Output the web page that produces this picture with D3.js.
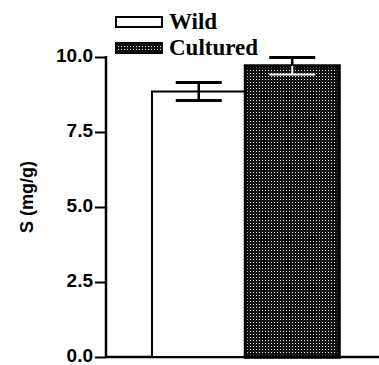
<!DOCTYPE html>
<html><head><meta charset="utf-8">
<script src="https://cdn.jsdelivr.net/npm/d3@7"></script>
<style>body{margin:0;background:#fff}</style>
</head><body>
<script>
const categories = ["Wild", "Cultured"];
const means = [8.85, 9.7];
const errors = [0.3, 0.28];
const yTicks = [0, 2.5, 5, 7.5, 10];
const yLabel = "S (mg/g)";

const W = 379, H = 365;
const svg = d3.select("body").append("svg").attr("width", W).attr("height", H);

const defs = svg.append("defs");
const pat = defs.append("pattern").attr("id", "hatch").attr("patternUnits", "userSpaceOnUse")
  .attr("width", 3).attr("height", 3);
pat.append("rect").attr("width", 3).attr("height", 3).attr("fill", "#111");
pat.append("rect").attr("x", 1).attr("y", 1).attr("width", 1).attr("height", 1).attr("fill", "#eee");

const y = d3.scaleLinear().domain([0, 10]).range([357, 57]);
const x = d3.scaleBand().domain(categories).range([152, 339]).paddingInner(0);
const axisX = 106;

// y axis
const yAxis = d3.axisLeft(y).tickValues(yTicks).tickFormat(d3.format(".1f")).tickSize(11).tickPadding(2);
const gy = svg.append("g").attr("transform", `translate(${axisX},0)`).call(yAxis);
gy.select(".domain").remove();
gy.selectAll(".tick line").attr("stroke", "#000").attr("stroke-width", 2);
gy.selectAll(".tick text").attr("font-family", "Liberation Sans, Arial, sans-serif")
  .attr("font-weight", "bold").attr("font-size", 19).attr("fill", "#000").attr("dy", "0.22em");
svg.append("line").attr("x1", axisX).attr("x2", axisX).attr("y1", y(10) - 1).attr("y2", y(0))
  .attr("stroke", "#000").attr("stroke-width", 2.5);
// baseline
svg.append("line").attr("x1", axisX - 1).attr("x2", W).attr("y1", y(0)).attr("y2", y(0))
  .attr("stroke", "#000").attr("stroke-width", 2.5);

// y label
svg.append("text").attr("transform", `translate(33,197) rotate(-90)`).attr("text-anchor", "middle")
  .attr("font-family", "Liberation Sans, Arial, sans-serif").attr("font-weight", "bold")
  .attr("font-size", 18).text(yLabel);

// bars
const fills = ["#fff", "url(#hatch)"];
const sw = [2, 3.5];
categories.forEach((c, i) => {
  svg.append("rect").attr("x", x(c)).attr("y", y(means[i])).attr("width", x.bandwidth())
    .attr("height", y(0) - y(means[i])).attr("fill", fills[i]).attr("stroke", "#000")
    .attr("stroke-width", sw[i]);
});

// error bars
categories.forEach((c, i) => {
  const cx = x(c) + x.bandwidth() / 2;
  const hw = 23;
  const g = svg.append("g");
  const col = "#000";
  g.append("line").attr("x1", cx).attr("x2", cx).attr("y1", y(means[i] + errors[i]))
    .attr("y2", i === 0 ? y(means[i] - errors[i]) : y(means[i])).attr("stroke", col).attr("stroke-width", 2.5);
  g.append("line").attr("x1", cx - hw).attr("x2", cx + hw).attr("y1", y(means[i] + errors[i]))
    .attr("y2", y(means[i] + errors[i])).attr("stroke", col).attr("stroke-width", 3);
  if (i === 0) {
    g.append("line").attr("x1", cx - hw).attr("x2", cx + hw).attr("y1", y(means[i] - errors[i]))
      .attr("y2", y(means[i] - errors[i])).attr("stroke", col).attr("stroke-width", 3);
  } else {
    g.append("line").attr("x1", cx).attr("x2", cx).attr("y1", y(means[i]))
      .attr("y2", y(means[i] - errors[i])).attr("stroke", "#fff").attr("stroke-width", 2);
    g.append("line").attr("x1", cx - hw).attr("x2", cx + hw).attr("y1", y(means[i] - errors[i]))
      .attr("y2", y(means[i] - errors[i])).attr("stroke", "#fff").attr("stroke-width", 2);
  }
});

// legend
const leg = svg.append("g");
categories.forEach((c, i) => {
  const ly = 17 + i * 26;
  leg.append("rect").attr("x", 116).attr("y", ly).attr("width", 46).attr("height", 10)
    .attr("fill", fills[i]).attr("stroke", "#000").attr("stroke-width", 2);
  leg.append("text").attr("x", 169).attr("y", ly + 12).attr("font-family", "Liberation Serif, Times New Roman, serif")
    .attr("font-weight", "bold").attr("font-size", 23).text(c);
});
</script>
</body></html>
